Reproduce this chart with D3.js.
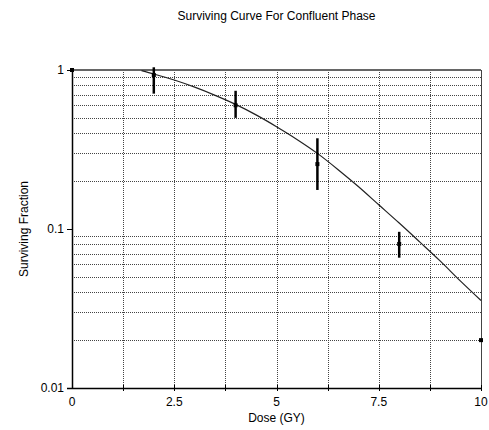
<!DOCTYPE html>
<html>
<head>
<meta charset="utf-8">
<script src="https://cdn.jsdelivr.net/npm/d3@7"></script>
<style>
    body { margin: 0; background: #fff; }
    svg text { font-family: "Liberation Sans", Arial, sans-serif; font-size: 12px; fill: #000; }
</style>
</head>
<body>
<div id="chart"></div>
<script>
var titleText = "Surviving Curve For Confluent Phase";
var xLabel = "Dose (GY)";
var yLabel = "Surviving Fraction";

// fitted curve
var curveDose = [1.7, 2.0, 2.5, 3.0, 3.5, 4.0, 4.5, 5.0, 5.5, 6.0, 6.5, 7.0, 7.5, 8.0, 8.5, 9.0, 9.5, 10];
var curveSF = [0.99, 0.944, 0.865, 0.78, 0.693, 0.608, 0.522, 0.44, 0.366, 0.299, 0.237, 0.185, 0.142, 0.109, 0.083, 0.063, 0.047, 0.0355];

// measured points with error bars
var pointDose = [2, 4, 6, 8];
var pointMean = [0.93, 0.60, 0.256, 0.0805];
var pointLow = [0.71, 0.50, 0.176, 0.066];
var pointHigh = [1.04, 0.74, 0.372, 0.096];

// lone points without bars
var extraDose = [0, 10];
var extraSF = [1.0, 0.02];

var xTicks = [0, 2.5, 5, 7.5, 10];
var xTickLabels = ["0", "2.5", "5", "7.5", "10"];
var xGrid = [1.25, 2.5, 3.75, 5, 6.25, 7.5, 8.75];
var yTicks = [0.01, 0.1, 1];
var yTickLabels = ["0.01", "0.1", "1"];

var width = 489, height = 430;
var margin = { top: 70, right: 8, bottom: 42, left: 72 };

var svg = d3.select("#chart").append("svg")
    .attr("width", width)
    .attr("height", height);

var x = d3.scaleLinear().domain([0, 10]).range([margin.left, width - margin.right]);
var y = d3.scaleLog().domain([0.01, 1]).range([height - margin.bottom, margin.top]);

// grid
var yGrid = [];
[0.01, 0.1].forEach(function (d) {
    for (var k = 2; k <= 9; k++) yGrid.push(d * k);
});

svg.append("g").selectAll("line.hg").data(yGrid).enter().append("line")
    .attr("x1", x(0)).attr("x2", x(10))
    .attr("y1", function (d) { return Math.round(y(d)) + 0.5; })
    .attr("y2", function (d) { return Math.round(y(d)) + 0.5; })
    .attr("stroke", "#444").attr("stroke-width", 1).attr("stroke-dasharray", "1,1");

svg.append("g").selectAll("line.vg").data(xGrid).enter().append("line")
    .attr("x1", function (d) { return Math.round(x(d)) + 0.5; })
    .attr("x2", function (d) { return Math.round(x(d)) + 0.5; })
    .attr("y1", y(1)).attr("y2", y(0.01))
    .attr("stroke", "#444").attr("stroke-width", 1).attr("stroke-dasharray", "1,1");

// frame: top and right
svg.append("line")
    .attr("x1", x(0)).attr("x2", x(10))
    .attr("y1", y(1)).attr("y2", y(1))
    .attr("stroke", "#666").attr("stroke-width", 2);
svg.append("line")
    .attr("x1", x(10) + 0.5).attr("x2", x(10) + 0.5)
    .attr("y1", y(1)).attr("y2", y(0.01))
    .attr("stroke", "#444").attr("stroke-width", 1);

// axes
svg.append("line")
    .attr("x1", x(0) + 0.5).attr("x2", x(0) + 0.5)
    .attr("y1", y(1)).attr("y2", y(0.01) + 1)
    .attr("stroke", "#000").attr("stroke-width", 1.5);
svg.append("line")
    .attr("x1", x(0) - 5).attr("x2", x(10) + 1)
    .attr("y1", y(0.01) + 0.5).attr("y2", y(0.01) + 0.5)
    .attr("stroke", "#000").attr("stroke-width", 1.5);

// x ticks
svg.append("g").selectAll("line").data(xGrid.concat([10])).enter().append("line")
    .attr("x1", function (d) { return Math.round(x(d)) + 0.5; })
    .attr("x2", function (d) { return Math.round(x(d)) + 0.5; })
    .attr("y1", y(0.01) - 3).attr("y2", y(0.01) + 3)
    .attr("stroke", "#000");

svg.append("g").selectAll("text").data(xTicks).enter().append("text")
    .attr("x", function (d) { return x(d); })
    .attr("y", y(0.01) + 18)
    .attr("text-anchor", "middle")
    .text(function (d, i) { return xTickLabels[i]; });

// y ticks
svg.append("g").selectAll("line").data(yTicks).enter().append("line")
    .attr("x1", x(0) - 5).attr("x2", x(0))
    .attr("y1", function (d) { return y(d) + 0.5; })
    .attr("y2", function (d) { return y(d) + 0.5; })
    .attr("stroke", "#000");

svg.append("g").selectAll("text").data(yTicks).enter().append("text")
    .attr("x", x(0) - 8)
    .attr("y", function (d) { return y(d) + 4; })
    .attr("text-anchor", "end")
    .text(function (d, i) { return yTickLabels[i]; });

// curve
var curveData = curveDose.map(function (d, i) { return { dose: d, sf: curveSF[i] }; });
var line = d3.line()
    .x(function (d) { return x(d.dose); })
    .y(function (d) { return y(d.sf); })
    .curve(d3.curveMonotoneX);
svg.append("path").datum(curveData)
    .attr("d", line)
    .attr("fill", "none")
    .attr("stroke", "#222")
    .attr("stroke-width", 1.2);

// error bars
svg.append("g").selectAll("line").data(pointDose).enter().append("line")
    .attr("x1", function (d) { return x(d); })
    .attr("x2", function (d) { return x(d); })
    .attr("y1", function (d, i) { return y(pointHigh[i]); })
    .attr("y2", function (d, i) { return y(pointLow[i]); })
    .attr("stroke", "#000").attr("stroke-width", 2.5);

svg.append("g").selectAll("rect").data(pointDose).enter().append("rect")
    .attr("x", function (d) { return x(d) - 2; })
    .attr("y", function (d, i) { return y(pointMean[i]) - 2; })
    .attr("width", 4).attr("height", 4)
    .attr("fill", "#000");

svg.append("g").selectAll("rect").data(extraDose).enter().append("rect")
    .attr("x", function (d) { return x(d) - 2; })
    .attr("y", function (d, i) { return y(extraSF[i]) - 2; })
    .attr("width", 4).attr("height", 4)
    .attr("fill", "#000");

// titles
svg.append("text")
    .attr("x", (x(0) + x(10)) / 2).attr("y", 20)
    .attr("text-anchor", "middle")
    .text(titleText);

svg.append("text")
    .attr("x", (x(0) + x(10)) / 2).attr("y", 422)
    .attr("text-anchor", "middle")
    .text(xLabel);

svg.append("text")
    .attr("transform", "translate(28," + ((y(1) + y(0.01)) / 2) + ") rotate(-90)")
    .attr("text-anchor", "middle")
    .text(yLabel);
</script>
</body>
</html>
